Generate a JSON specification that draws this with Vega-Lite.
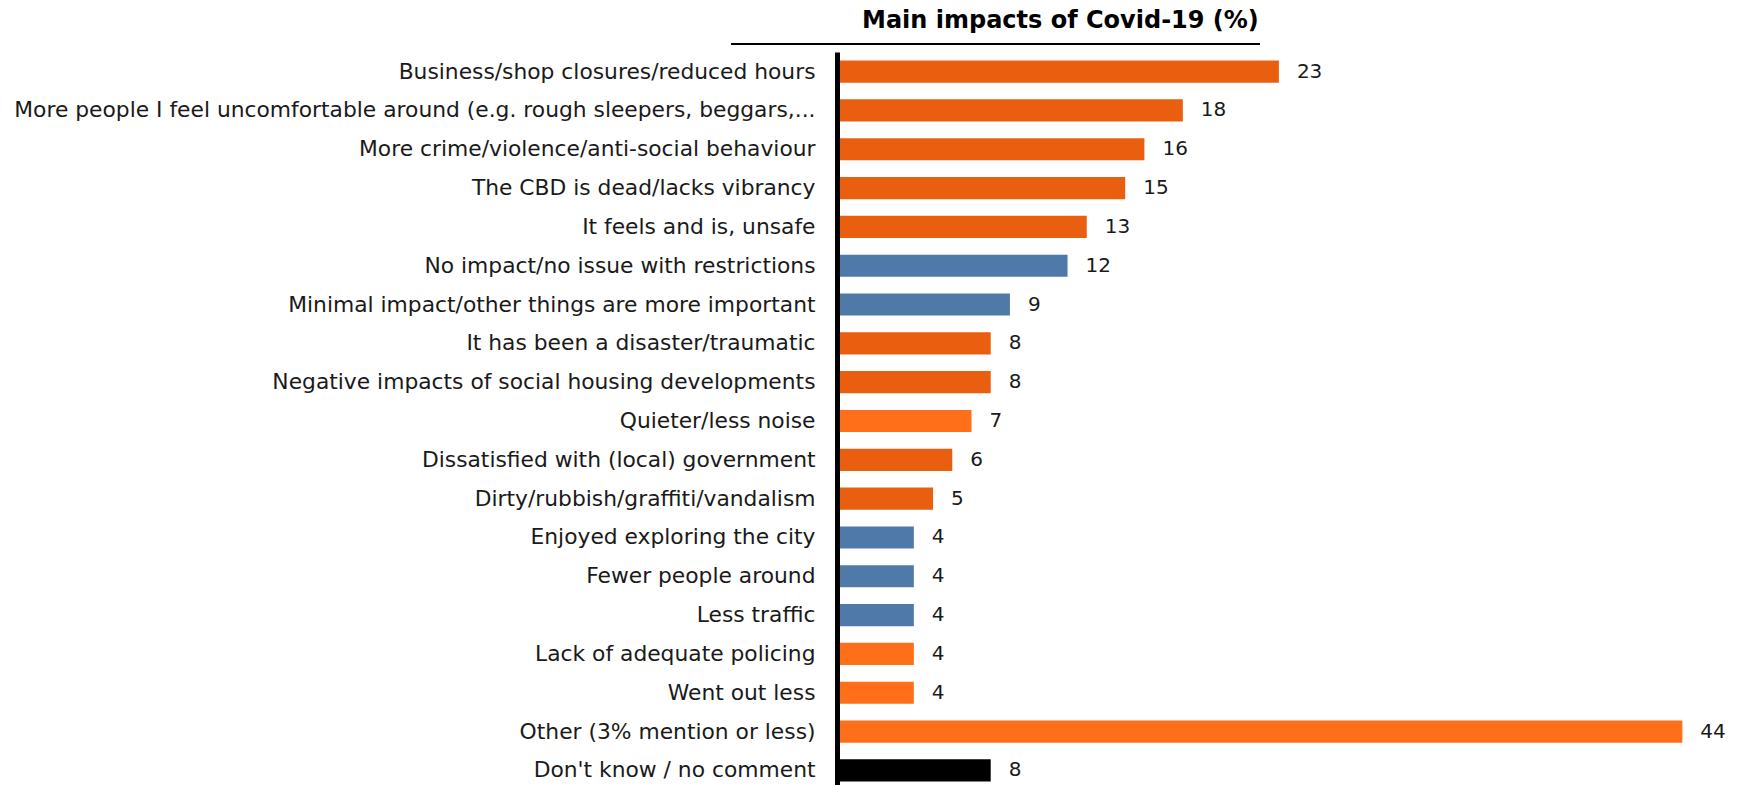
{
  "$schema": "https://vega.github.io/schema/vega-lite/v6.json",
  "autosize": "none",
  "width": 903,
  "height": 738,
  "padding": {"left": 837, "top": 52, "right": 6, "bottom": 0},
  "background": "white",
  "title": {
    "text": "Main impacts of Covid-19 (%)",
    "anchor": "start",
    "frame": "group",
    "dx": 25,
    "offset": 10,
    "font": "DejaVu Sans",
    "fontSize": 24,
    "fontWeight": "bold",
    "color": "#000000"
  },
  "config": {"view": {"stroke": null}},
  "data": {
    "values": [
      {"label": "Business/shop closures/reduced hours", "value": 23, "group": "neg"},
      {"label": "More people I feel uncomfortable around (e.g. rough sleepers, beggars,...", "value": 18, "group": "neg"},
      {"label": "More crime/violence/anti-social behaviour", "value": 16, "group": "neg"},
      {"label": "The CBD is dead/lacks vibrancy", "value": 15, "group": "neg"},
      {"label": "It feels and is, unsafe", "value": 13, "group": "neg"},
      {"label": "No impact/no issue with  restrictions", "value": 12, "group": "pos"},
      {"label": "Minimal impact/other things are more important", "value": 9, "group": "pos"},
      {"label": "It has been a disaster/traumatic", "value": 8, "group": "neg"},
      {"label": "Negative impacts of social housing developments", "value": 8, "group": "neg"},
      {"label": "Quieter/less noise", "value": 7, "group": "other"},
      {"label": "Dissatisfied with (local) government", "value": 6, "group": "neg"},
      {"label": "Dirty/rubbish/graffiti/vandalism", "value": 5, "group": "neg"},
      {"label": "Enjoyed exploring the city", "value": 4, "group": "pos"},
      {"label": "Fewer people around", "value": 4, "group": "pos"},
      {"label": "Less traffic", "value": 4, "group": "pos"},
      {"label": "Lack of adequate policing", "value": 4, "group": "other"},
      {"label": "Went out less", "value": 4, "group": "other"},
      {"label": "Other (3% mention or less)", "value": 44, "group": "other"},
      {"label": "Don't know / no comment", "value": 8, "group": "dk"}
    ]
  },
  "encoding": {
    "y": {
      "field": "label",
      "type": "nominal",
      "sort": null,
      "scale": {"paddingInner": 0.43, "paddingOuter": 0.22},
      "axis": {
        "title": null,
        "ticks": false,
        "domainColor": "#000000",
        "domainWidth": 5,
        "labelFont": "DejaVu Sans",
        "labelFontSize": 21.8,
        "labelColor": "#1a1a1a",
        "labelPadding": 22,
        "labelLimit": 900,
        "zindex": 1
      }
    },
    "x": {
      "field": "value",
      "type": "quantitative",
      "scale": {"domain": [0, 47], "nice": false},
      "axis": null
    }
  },
  "layer": [
    {
      "mark": {"type": "bar"},
      "encoding": {
        "color": {
          "field": "group",
          "type": "nominal",
          "scale": {"domain": ["neg", "pos", "other", "dk"], "range": ["#EA5E10", "#4E79A9", "#FF6F1A", "#000000"]},
          "legend": null
        }
      }
    },
    {
      "mark": {"type": "text", "align": "left", "dx": 18, "font": "DejaVu Sans", "fontSize": 20, "color": "#1a1a1a"},
      "encoding": {"text": {"field": "value", "type": "quantitative"}}
    },
    {
      "mark": {"type": "rule", "color": "#000000", "strokeWidth": 2, "clip": false},
      "encoding": {
        "x": {"datum": -5.5},
        "x2": {"datum": 22},
        "y": {"value": -8}
      }
    }
  ]
}
